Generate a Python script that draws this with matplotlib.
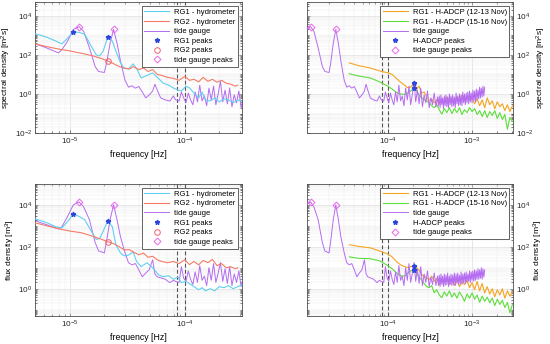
#!/usr/bin/env python3
"""Spectral and flux density of RG1/RG2 hydrometer, H-ADCP and tide gauge records."""

import matplotlib
matplotlib.use("Agg")
import matplotlib.pyplot as plt
import numpy as np
from matplotlib.ticker import LogLocator, NullFormatter

plt.rcParams.update({
    "font.family": ["Liberation Sans", "DejaVu Sans"],
    "font.size": 5.8,
    "mathtext.default": "regular",
    "axes.linewidth": 0.6,
    "axes.edgecolor": "#4d4d4d",
    "xtick.direction": "in", "ytick.direction": "in",
    "xtick.color": "#4d4d4d", "ytick.color": "#4d4d4d",
    "xtick.labelcolor": "#262626", "ytick.labelcolor": "#262626",
})

# ---- data: log10(frequency [Hz]) and log10(density) ----
# tide gauge, shared by left/right panels of a row
TG_F = [-5.30, -5.20, -5.10, -5.07, -5.02, -4.97, -4.92, -4.88, -4.83, -4.78,
        -4.75, -4.70, -4.68, -4.65, -4.62, -4.59, -4.56, -4.52, -4.49, -4.46,
        -4.43, -4.40, -4.37, -4.34, -4.31, -4.28, -4.26, -4.24, -4.21, -4.17,
        -4.13, -4.10, -4.08, -4.05, -4.03, -4.01,
        -3.99, -3.97, -3.95, -3.93, -3.91, -3.89, -3.87, -3.85, -3.83, -3.81,
        -3.79, -3.77, -3.75, -3.73, -3.71, -3.69, -3.67, -3.65, -3.63, -3.61,
        -3.59, -3.57, -3.55, -3.53, -3.51, -3.49, -3.47, -3.45, -3.43, -3.41,
        -3.40, -3.39, -3.38, -3.37, -3.36, -3.35, -3.34, -3.33, -3.32, -3.31,
        -3.30, -3.29, -3.28, -3.27, -3.26, -3.25, -3.24, -3.23, -3.22, -3.21,
        -3.20, -3.19, -3.18, -3.17, -3.16, -3.15, -3.14, -3.13, -3.12, -3.11,
        -3.10, -3.09, -3.08, -3.07, -3.06, -3.05, -3.04, -3.03, -3.02, -3.01,
        -3.00, -2.99, -2.98, -2.97, -2.96, -2.95, -2.94, -2.93, -2.92, -2.91,
        -2.90, -2.89, -2.88, -2.87, -2.86, -2.85]
TG_SPEC = [2.56, 2.35, 2.10, 2.26, 2.70, 3.30, 3.44, 3.20, 2.36, 1.40,
           1.15, 1.10, 1.60, 2.60, 3.30, 2.60, 1.69, 0.70, 0.35, 0.42,
           0.30, 0.38, 0.10, -0.20, -0.05, 0.15, 0.50, 0.20, -0.20, -0.30,
           -0.36, -0.10, -0.30, -0.36, 0.10, -0.20,
           -0.45, 0.05, -0.30, -0.55, 0.10, -0.40, 0.45, -0.35, -0.10, -0.60,
           0.30, -0.30, 0.40, -0.55, 0.00, 0.65, -0.40, 0.20, -0.50, 0.30,
           -0.65, -0.05, -0.45, 0.15, -0.70, -0.20, -0.55, 0.05, -0.65, -0.15,
           -0.60, -0.10, -0.70, -0.05, -0.55, -0.20, -0.75, -0.10, -0.60, -0.05,
           -0.65, -0.15, -0.70, 0.00, -0.55, -0.10, -0.65, -0.05, -0.60, -0.15,
           -0.70, 0.05, -0.50, -0.10, -0.60, 0.00, -0.55, -0.05, -0.60, 0.10,
           -0.45, 0.00, -0.55, 0.05, -0.45, 0.10, -0.50, 0.15, -0.40, 0.05,
           -0.45, 0.20, -0.35, 0.15, -0.40, 0.25, -0.30, 0.20, -0.25, 0.35,
           -0.20, 0.30, -0.15, 0.40, -0.10, 0.35]
TG_FLUX = [3.24, 3.05, 2.86, 2.95, 3.45, 4.00, 4.14, 3.90, 3.29, 2.20,
           1.80, 1.71, 2.30, 3.30, 4.00, 3.30, 2.48, 1.71, 1.24, 1.14,
           1.20, 0.90, 0.57, 0.75, 0.90, 1.38, 0.70, 0.57, 0.52, 0.45,
           0.29, 0.40, 0.35, 0.30, 1.05, 0.50,
           0.35, 0.85, 0.45, 0.20, 0.80, 0.30, 1.10, 0.40, 0.60, 0.15,
           1.00, 0.40, 1.20, 0.30, 0.75, 1.25, 0.35, 0.95, 0.25, 1.05,
           0.15, 0.70, 0.30, 0.85, 0.10, 0.55, 0.20, 0.75, 0.15, 0.60,
           0.15, 0.65, 0.10, 0.70, 0.20, 0.60, 0.10, 0.70, 0.15, 0.65,
           0.20, 0.75, 0.10, 0.60, 0.20, 0.70, 0.15, 0.65, 0.20, 0.75,
           0.15, 0.70, 0.25, 0.75, 0.20, 0.65, 0.25, 0.80, 0.20, 0.70,
           0.30, 0.75, 0.25, 0.80, 0.30, 0.70, 0.35, 0.85, 0.30, 0.80,
           0.40, 0.85, 0.35, 0.90, 0.40, 0.85, 0.45, 0.95, 0.45, 0.90,
           0.50, 1.00, 0.45, 0.95, 0.55, 0.90]

# RG1 / RG2 hydrometer (left panels)
RG1_F = [-5.30, -5.20, -5.12, -5.07, -5.02, -4.97, -4.92, -4.87, -4.82, -4.77,
         -4.74, -4.71, -4.67, -4.63, -4.60, -4.56, -4.53, -4.49, -4.45, -4.42,
         -4.38, -4.33, -4.28, -4.23, -4.19, -4.14, -4.10, -4.06, -4.03, -3.99,
         -3.96, -3.92, -3.88, -3.85, -3.82, -3.78, -3.74, -3.70, -3.66, -3.62,
         -3.58, -3.54, -3.50]
RG1_SPEC = [3.08, 2.90, 2.70, 2.56, 2.85, 3.18, 3.15, 3.05, 2.50, 2.00,
            1.95, 2.20, 2.92, 2.70, 2.20, 1.60, 1.33, 1.28, 1.54, 1.30,
            0.82, 0.95, 1.08, 0.80, 0.56, 0.45, 0.31, 0.20, 0.15, 0.40,
            0.31, 0.05, -0.20, 0.10, -0.30, -0.36, -0.20, -0.40, -0.25, -0.30,
            -0.45, -0.30, -0.38]
RG1_FLUX = [3.33, 3.15, 2.95, 2.90, 3.20, 3.57, 3.45, 3.29, 2.80, 2.35,
            2.40, 2.75, 3.24, 2.95, 2.10, 1.71, 1.57, 1.60, 1.76, 1.30,
            1.05, 1.24, 1.00, 0.67, 0.57, 0.62, 0.45, 0.55, 0.29, 0.35,
            0.25, 0.10, -0.05, 0.05, -0.10, 0.00, -0.10, 0.10, 0.05, 0.15,
            0.00, 0.10, 0.19]
RG2_F = [-5.30, -5.20, -5.10, -5.00, -4.90, -4.80, -4.72, -4.67, -4.62, -4.57,
         -4.53, -4.48, -4.45, -4.40, -4.36, -4.32, -4.28, -4.24, -4.20, -4.15,
         -4.10, -4.05, -4.00, -3.96, -3.92, -3.88, -3.84, -3.80, -3.76, -3.72,
         -3.68, -3.64, -3.60, -3.56, -3.54]
RG2_SPEC = [2.56, 2.42, 2.30, 2.20, 2.08, 1.95, 1.80, 1.69, 1.55, 1.40,
            1.33, 1.28, 1.40, 1.25, 1.33, 1.15, 1.25, 1.00, 0.95, 0.85,
            0.80, 0.70, 0.90, 0.70, 0.75, 0.62, 0.85, 0.65, 0.75, 0.60,
            0.70, 0.55, 0.50, 0.40, 0.45]
RG2_FLUX = [3.14, 3.00, 2.86, 2.75, 2.67, 2.50, 2.35, 2.24, 2.15, 2.00,
            1.86, 1.86, 1.76, 1.62, 1.70, 1.50, 1.55, 1.38, 1.30, 1.24,
            1.30, 1.20, 1.38, 1.15, 1.30, 1.14, 1.35, 1.24, 1.40, 1.10,
            1.20, 1.00, 1.05, 0.95, 1.00]

# RG1 H-ADCP, two periods (right panels)
ADCP_F = [-4.46, -4.35, -4.21, -4.10, -4.00, -3.95, -3.90, -3.85, -3.80, -3.77,
          -3.73, -3.69, -3.66, -3.63, -3.60, -3.57, -3.54, -3.51, -3.48, -3.45,
          -3.42, -3.39, -3.36, -3.33, -3.30, -3.27, -3.24, -3.21, -3.18, -3.15,
          -3.12, -3.09, -3.06, -3.03, -3.00, -2.97, -2.94, -2.91, -2.88, -2.85,
          -2.82, -2.79, -2.76, -2.73, -2.70, -2.67, -2.64, -2.61, -2.58, -2.55,
          -2.52]
NOV12_SPEC = [1.59, 1.45, 1.33, 1.18, 1.08, 1.00, 0.80, 0.60, 0.45, 0.33,
              0.35, 0.56, 0.25, 0.40, 0.05, 0.10, -0.15, -0.35, -0.25, -0.45,
              -0.30, -0.50, -0.25, -0.40, -0.15, -0.35, -0.20, -0.40, -0.15, -0.30,
              -0.05, -0.35, -0.10, -0.30, -0.20, -0.50, -0.25, -0.60, -0.30, -0.70,
              -0.20, -0.55, -0.35, -0.75, -0.40, -0.65, -0.50, -0.85, -0.55, -0.90,
              -0.60]
NOV15_SPEC = [1.03, 0.92, 0.82, 0.62, 0.40, 0.25, 0.08, 0.00, -0.02, 0.03,
              0.15, 0.31, 0.15, -0.05, -0.20, -0.30, -0.35, -0.45, -0.60, -0.70,
              -0.55, -0.80, -1.03, -0.75, -0.95, -0.70, -1.00, -0.75, -0.95, -0.70,
              -1.05, -0.80, -0.95, -0.70, -0.90, -0.75, -1.05, -0.85, -1.15, -0.85,
              -1.20, -0.90, -1.10, -0.85, -1.25, -0.95, -1.30, -1.05, -1.80, -1.20,
              -1.40]
NOV12_FLUX = [2.10, 2.02, 1.95, 1.80, 1.65, 1.52, 1.30, 1.14, 1.05, 1.02,
              1.05, 1.10, 1.00, 0.90, 0.67, 0.60, 0.52, 0.43, 0.60, 0.35,
              0.50, 0.19, 0.45, 0.30, 0.50, 0.20, 0.40, 0.15, 0.45, 0.10,
              0.35, 0.20, 0.40, 0.05, 0.30, -0.05, 0.35, -0.10, 0.25, -0.20,
              0.10, -0.25, 0.00, -0.38, -0.05, -0.30, 0.00, -0.45, -0.10, -0.35,
              -0.15]
NOV15_FLUX = [1.52, 1.45, 1.43, 1.33, 1.10, 0.95, 0.76, 0.62, 0.60, 0.72,
              0.85, 0.90, 0.76, 0.55, 0.43, 0.25, 0.10, 0.05, 0.15, -0.19,
              -0.05, -0.30, -0.43, -0.15, -0.35, -0.10, -0.40, -0.20, -0.45, -0.15,
              -0.35, -0.60, -0.25, -0.45, -0.20, -0.50, -0.30, -0.65, -0.35, -0.60,
              -0.40, -0.67, -0.45, -0.80, -0.50, -0.75, -0.55, -0.90, -0.65, -1.14,
              -0.75]

# spectral peaks (log10 f, log10 density)
RG1_PK_F = [-4.97, -4.67]
RG1_PK_SPEC = [3.18, 2.92]
RG1_PK_FLUX = [3.57, 3.24]
RG2_PK_F = [-4.67]
RG2_PK_SPEC = [1.69]
RG2_PK_FLUX = [2.24]
TG_PK_F = [-4.92, -4.62]
TG_PK_SPEC = [3.44, 3.30]
TG_PK_FLUX = [4.14, 4.00]
ADCP_PK_F = [-3.69, -3.69]
ADCP_PK_SPEC = [0.56, 0.31]
ADCP_PK_FLUX = [1.10, 0.90]

# dashed reference frequencies [Hz]
VLINES = [8.6e-5, 1.0e-4]

C_RG1 = "#5fd0ef"
C_RG2 = "#f47c66"
C_TG = "#b56cf0"
C_NOV12 = "#f5a41e"
C_NOV15 = "#5ddd3c"
C_STAR = "#2d46dc"
C_CIRC = "#f0606e"
C_DIAM = "#ee66ee"

LEG_KW = dict(loc="upper right", fontsize=5.5, labelspacing=0.3,
              handlelength=3.3, handletextpad=0.6, borderpad=0.35,
              fancybox=False, framealpha=1, edgecolor="#262626")


def p10(a):
    return np.power(10.0, np.asarray(a, dtype=float))


def style_axes(ax, xlim, ylim, yticks, ylabel, right=False):
    ax.set_xscale("log")
    ax.set_yscale("log")
    ax.set_xlim(*xlim)
    ax.set_ylim(*ylim)
    ax.set_yticks(yticks)
    ax.yaxis.set_minor_locator(LogLocator(base=10, subs=np.arange(1, 10), numticks=20))
    ax.yaxis.set_minor_formatter(NullFormatter())
    ax.xaxis.set_minor_locator(LogLocator(base=10, subs=np.arange(2, 10), numticks=20))
    ax.xaxis.set_minor_formatter(NullFormatter())
    ax.grid(True, which="major", color="#d9d9d9", lw=0.45)
    ax.grid(True, which="minor", color="#ececec", lw=0.35)
    ax.set_axisbelow(True)
    ax.tick_params(which="both", top=True, right=True, left=True, bottom=True,
                   width=0.5, labelsize=5.9, pad=2)
    ax.tick_params(which="major", length=2.5)
    ax.tick_params(which="minor", length=1.3)
    if right:
        ax.tick_params(labelleft=False, labelright=True)
        ax.yaxis.set_label_position("right")
    ax.set_xlabel("frequency [Hz]", fontsize=6.3, labelpad=2)
    ax.set_ylabel(ylabel, fontsize=6.1, labelpad=1)
    for x in VLINES:
        ax.axvline(x, color="#555555", ls=(0, (3.5, 2)), lw=0.8, zorder=1.5)


def left_panel(ax, rg1, rg2, tg, pk1, pk2, pkt, ylim, yticks, ylabel):
    style_axes(ax, (4.97e-6, 3.13e-4), ylim, yticks, ylabel)
    ax.plot(p10(RG1_F), p10(rg1), color=C_RG1, lw=0.8, label="RG1 - hydrometer", zorder=3)
    ax.plot(p10(RG2_F), p10(rg2), color=C_RG2, lw=0.8, label="RG2 - hydrometer", zorder=3)
    ax.plot(p10(TG_F), p10(tg), color=C_TG, lw=0.7, label="tide gauge", zorder=2.5)
    ax.plot(p10(RG1_PK_F), p10(pk1), ls="none", marker="*", ms=3.5, color=C_STAR,
            label="RG1 peaks", zorder=4)
    ax.plot(p10(RG2_PK_F), p10(pk2), ls="none", marker="o", ms=4, mfc="none",
            mec=C_CIRC, mew=0.7, label="RG2 peaks", zorder=4)
    ax.plot(p10(TG_PK_F), p10(pkt), ls="none", marker="D", ms=3.5, mfc="none",
            mec=C_DIAM, mew=0.7, label="tide gauge peaks", zorder=4)
    leg = ax.legend(**LEG_KW)
    leg.get_frame().set_linewidth(0.5)


def right_panel(ax, n12, n15, tg, pka, pkt, ylim, yticks, ylabel):
    style_axes(ax, (1.087e-5, 3.08e-3), ylim, yticks, ylabel, right=True)
    ax.plot(p10(ADCP_F), p10(n12), color=C_NOV12, lw=0.8,
            label="RG1 - H-ADCP (12-13 Nov)", zorder=3)
    ax.plot(p10(ADCP_F), p10(n15), color=C_NOV15, lw=0.8,
            label="RG1 - H-ADCP (15-16 Nov)", zorder=3)
    ax.plot(p10(TG_F), p10(tg), color=C_TG, lw=0.7, label="tide gauge", zorder=3.5)
    ax.plot(p10(ADCP_PK_F), p10(pka), ls="none", marker="*", ms=3.5, color=C_STAR,
            label="H-ADCP peaks", zorder=4)
    ax.plot(p10(TG_PK_F), p10(pkt), ls="none", marker="D", ms=3.5, mfc="none",
            mec=C_DIAM, mew=0.7, label="tide gauge peaks", zorder=4)
    leg = ax.legend(**LEG_KW)
    leg.get_frame().set_linewidth(0.5)


def main():
    fig = plt.figure(figsize=(5.5, 3.44), dpi=100)
    ax_tl = fig.add_axes([0.0636, 0.613, 0.376, 0.381])
    ax_tr = fig.add_axes([0.558, 0.613, 0.375, 0.381])
    ax_bl = fig.add_axes([0.0636, 0.0814, 0.376, 0.384])
    ax_br = fig.add_axes([0.558, 0.0814, 0.375, 0.384])

    spec_lab = "spectral density [m$^2$s]"
    flux_lab = "flux density [m$^3$]"
    spec_ylim, spec_ticks = (1e-2, 5e4), [1e-2, 1e0, 1e2, 1e4]
    flux_ylim, flux_ticks = (5e-2, 1e5), [1e0, 1e2, 1e4]

    left_panel(ax_tl, RG1_SPEC, RG2_SPEC, TG_SPEC, RG1_PK_SPEC, RG2_PK_SPEC,
               TG_PK_SPEC, spec_ylim, spec_ticks, spec_lab)
    right_panel(ax_tr, NOV12_SPEC, NOV15_SPEC, TG_SPEC, ADCP_PK_SPEC, TG_PK_SPEC,
                spec_ylim, spec_ticks, spec_lab)
    left_panel(ax_bl, RG1_FLUX, RG2_FLUX, TG_FLUX, RG1_PK_FLUX, RG2_PK_FLUX,
               TG_PK_FLUX, flux_ylim, flux_ticks, flux_lab)
    right_panel(ax_br, NOV12_FLUX, NOV15_FLUX, TG_FLUX, ADCP_PK_FLUX, TG_PK_FLUX,
                flux_ylim, flux_ticks, flux_lab)

    fig.savefig("out.png", dpi=100)
    plt.close(fig)


if __name__ == "__main__":
    main()
